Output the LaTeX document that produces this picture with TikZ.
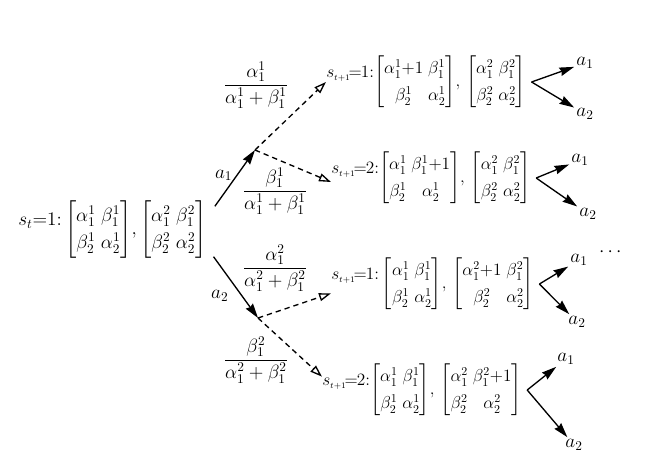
\documentclass[tikz,border=0pt]{standalone}
\usepackage{amsmath}
\usepackage{graphicx}
\usetikzlibrary{arrows.meta}
\setlength{\arraycolsep}{2pt}
\renewcommand{\arraystretch}{1.12}
\newcommand{\slab}[2]{\raisebox{7pt}{$s_{\scriptscriptstyle #1}\mkern-2mu{=}\mkern-1mu#2{:}$}}
\newcommand{\shrink}[1]{\scalebox{0.9}{\renewcommand{\arraystretch}{1.25}#1}}
\begin{document}
\begin{tikzpicture}[x=0.75pt, y=-0.75pt, every node/.style={font=\Large},
    % Estilos
    state/.style={anchor=west, inner sep=0pt},
    prob/.style={inner sep=1pt},
    leaf/.style={inner sep=1.5pt},
    lbl/.style={inner sep=1pt},
    act/.style={-{Stealth[length=11pt, width=6.5pt, inset=1pt]}, line width=1pt},
    chance/.style={-{Triangle[open, length=9pt, width=6pt]}, line width=1pt,
        dash pattern=on 4pt off 3pt}
]
\useasboundingbox (0,0) rectangle (652,464);

% =============================================
% ESTADO INICIAL
% =============================================
\node[state] (root) at (18,230) {\raisebox{7pt}{$s_t{=}1{:}$}\,$\begin{bmatrix}\alpha_1^1 & \beta_1^1\\ \beta_2^1 & \alpha_2^1\end{bmatrix}\!,\begin{bmatrix}\alpha_1^2 & \beta_1^2\\ \beta_2^2 & \alpha_2^2\end{bmatrix}$};

\coordinate (c1) at (255,150);
\coordinate (c2) at (258,318);

\draw[act] ([xshift=6pt,yshift=-4pt]root.north east) -- (c1)
    node[lbl, pos=0.55, left=2pt] {$a_1$};
\draw[act] ([xshift=5pt,yshift=-20pt]root.east) -- (c2)
    node[lbl, pos=0.5, below left=1pt, xshift=-3pt] {$a_2$};

% =============================================
% ESTADOS SIGUIENTES
% =============================================
\node[state] (s11) at (326,82) {\shrink{\slab{t+1}{1}$\begin{bmatrix}\alpha_1^1{+}1 & \beta_1^1\\ \beta_2^1 & \alpha_2^1\end{bmatrix}\!,\,\begin{bmatrix}\alpha_1^2 & \beta_1^2\\ \beta_2^2 & \alpha_2^2\end{bmatrix}$}};
\node[state] (s12) at (331,178) {\shrink{\slab{t+1}{2}$\begin{bmatrix}\alpha_1^1 & \beta_1^1{+}1\\ \beta_2^1 & \alpha_2^1\end{bmatrix}\!,\,\begin{bmatrix}\alpha_1^2 & \beta_1^2\\ \beta_2^2 & \alpha_2^2\end{bmatrix}$}};
\node[state] (s21) at (331,284) {\shrink{\slab{t+1}{1}\,$\begin{bmatrix}\alpha_1^1 & \beta_1^1\\ \beta_2^1 & \alpha_2^1\end{bmatrix}\!,\,\begin{bmatrix}\alpha_1^2{+}1 & \beta_1^2\\ \beta_2^2 & \alpha_2^2\end{bmatrix}$}};
\node[state] (s22) at (322,390) {\shrink{\slab{t+1}{2}$\begin{bmatrix}\alpha_1^1 & \beta_1^1\\ \beta_2^1 & \alpha_2^1\end{bmatrix}\!,\,\begin{bmatrix}\alpha_1^2 & \beta_1^2{+}1\\ \beta_2^2 & \alpha_2^2\end{bmatrix}$}};

\draw[chance] (c1) -- (s11.west);
\draw[chance] (c1) -- ([yshift=-3pt]s12.west);
\draw[chance] (c2) -- ([yshift=-7pt]s21.west);
\draw[chance] (c2) -- ([yshift=10pt]s22.west);

% probabilidades de transicion
\node[prob] (p11) at (256,85)  {$\dfrac{\alpha_1^1}{\alpha_1^1+\beta_1^1}$};
\node[prob] (p12) at (275,191) {$\dfrac{\beta_1^1}{\alpha_1^1+\beta_1^1}$};
\node[prob] (p21) at (275,268) {$\dfrac{\alpha_1^2}{\alpha_1^2+\beta_1^2}$};
\node[prob] (p22) at (256,360) {$\dfrac{\beta_1^2}{\alpha_1^2+\beta_1^2}$};

% =============================================
% ACCIONES SIGUIENTES
% =============================================
\coordinate (f11) at ([xshift=4pt]s11.east);
\coordinate (f12) at ([xshift=4pt]s12.east);
\coordinate (f21) at ([xshift=4pt]s21.east);
\coordinate (f22) at ([xshift=4pt]s22.east);

\node[leaf] (a111) at (585,63)  {$a_1$};
\node[leaf] (a112) at (585,114) {$a_2$};
\node[leaf] (a121) at (580,160) {$a_1$};
\node[leaf] (a122) at (588,214) {$a_2$};
\node[leaf] (a211) at (579,260) {$a_1$};
\node[leaf] (a212) at (577,322) {$a_2$};
\node[leaf] (a221) at (566,359) {$a_1$};
\node[leaf] (a222) at (574,445) {$a_2$};

\draw[act] (f11) -- (a111);
\draw[act] (f11) -- (a112);
\draw[act] (f12) -- (a121);
\draw[act] (f12) -- (a122);
\draw[act] (f21) -- (a211);
\draw[act] (f21) -- (a212);
\draw[act] (f22) -- (a221);
\draw[act] (f22) -- (a222);

\node (more) at (612,252) {$\cdots$};

\end{tikzpicture}
\end{document}
